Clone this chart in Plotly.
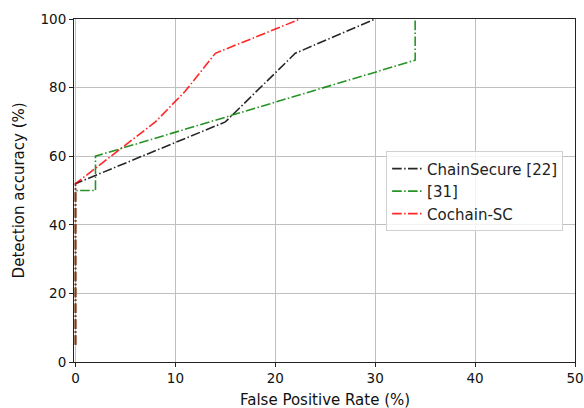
import plotly.graph_objects as go

# Data
chainsecure_x = [0, 0, 15, 22, 30]
chainsecure_y = [5, 52, 70, 90, 100]
ref31_x = [0, 0, 2, 2, 34, 34]
ref31_y = [5, 50, 50, 60, 88, 100]
cochain_x = [0, 0, 8, 11, 14, 22.5]
cochain_y = [5, 52, 70, 79, 90, 100]

names = ["ChainSecure [22]", "[31]", "Cochain-SC"]
colors = ["rgba(0,0,0,0.85)", "rgba(0,128,0,0.85)", "rgba(255,0,0,0.85)"]
series = [(chainsecure_x, chainsecure_y), (ref31_x, ref31_y), (cochain_x, cochain_y)]

x_ticks = [0, 10, 20, 30, 40, 50]
y_ticks = [0, 20, 40, 60, 80, 100]
x_title = "False Positive Rate (%)"
y_title = "Detection accuracy (%)"

fig = go.Figure()
for (xs, ys), n, c in zip(series, names, colors):
    fig.add_trace(go.Scatter(x=xs, y=ys, mode="lines", name=n,
                             line=dict(color=c, width=1.6, dash="9.6px,2.4px,1.5px,2.4px")))

font = dict(family="DejaVu Sans", size=13.5, color="#111")
fig.update_layout(
    width=584, height=408, autosize=False,
    margin=dict(l=74, r=9, t=19, b=46),
    paper_bgcolor="white", plot_bgcolor="white",
    font=font,
    legend=dict(x=0.623, y=0.614, xanchor="left", yanchor="top",
                bgcolor="rgba(255,255,255,0.8)", bordercolor="#d0d0d0", borderwidth=1,
                font=dict(family="DejaVu Sans", size=15, color="#222"),
                itemwidth=30, tracegroupgap=0),
    showlegend=True,
    annotations=[
        dict(text=x_title, xref="paper", yref="paper", x=0.5, y=-0.111,
             xanchor="center", yanchor="middle", showarrow=False,
             font=dict(family="DejaVu Sans", size=15, color="#111")),
        dict(text=y_title, xref="paper", yref="paper", x=-0.110, y=0.5,
             xanchor="center", yanchor="middle", showarrow=False, textangle=-90,
             font=dict(family="DejaVu Sans", size=15, color="#111")),
    ],
)
fig.update_xaxes(range=[-0.15, 50], tickvals=x_ticks, showgrid=True, gridcolor="#c0c0c0", gridwidth=1,
                 zeroline=False, showline=True, linecolor="#222", linewidth=1, mirror=True,
                 ticks="outside", ticklen=4, tickcolor="#222", automargin=False)
fig.update_yaxes(range=[0, 100], tickvals=y_ticks, showgrid=True, gridcolor="#c0c0c0", gridwidth=1,
                 zeroline=False, showline=True, linecolor="#222", linewidth=1, mirror=True,
                 ticks="outside", ticklen=4, tickcolor="#222", automargin=False)

fig.write_html("out.html", default_width="584px", default_height="408px",
               config={"displayModeBar": False, "responsive": False})

# remove default page margin so the figure sits at the window's origin
with open("out.html", "r", encoding="utf-8") as f:
    html = f.read()
html = html.replace("<head>", "<head><style>html,body{margin:0;padding:0;overflow:hidden;}</style>", 1)
with open("out.html", "w", encoding="utf-8") as f:
    f.write(html)
